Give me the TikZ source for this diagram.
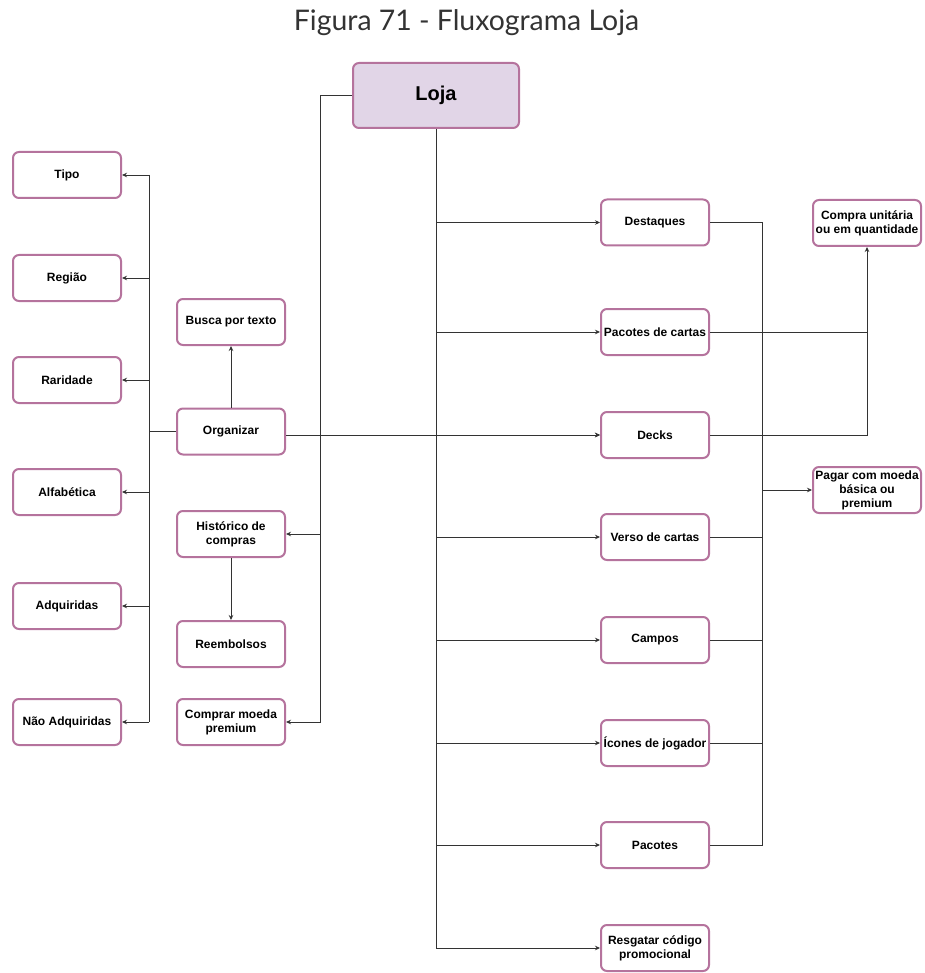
\documentclass[tikz,border=0pt]{standalone}
\usepackage{fontspec}
\setmainfont{Liberation Sans}
\newfontfamily\titlefont{Lato}
\usetikzlibrary{arrows.meta}
\definecolor{boxline}{HTML}{B5739D}
\definecolor{lojafill}{HTML}{E1D5E7}
\definecolor{wirecol}{HTML}{333333}
\begin{document}
\begin{tikzpicture}[x=1pt,y=-1pt,
  box/.style={draw=boxline, line width=2pt, rounded corners=6pt, fill=white,
    minimum width=108pt, minimum height=46pt, align=center, inner sep=1pt,
    font=\fontsize{12}{14}\selectfont\bfseries},
  wire/.style={draw=wirecol, line width=0.8pt},
  arr/.style={wire, -{Stealth[length=5pt,width=4.5pt]}}]
\useasboundingbox (0,0) rectangle (924,973);

% title
\node[font=\titlefont\fontsize{28.4}{32}\selectfont, text=wirecol] (title) at (466.5,23) {Figura 71 - Fluxograma Loja};

% root
\node[box, fill=lojafill, minimum width=166pt, minimum height=65pt,
  font=\fontsize{20}{24}\selectfont\bfseries] (loja) at (436,95.5) {Loja};

% sorting options (left column)
\node[box] (tipo)  at (67,175) {Tipo};
\node[box] (regiao) at (67,278) {Região};
\node[box] (rarid) at (67,380) {Raridade};
\node[box] (alfa)  at (67,492) {Alfabética};
\node[box] (adq)   at (67,606) {Adquiridas};
\node[box] (nadq)  at (67,722) {Não Adquiridas};

% middle column
\node[box] (busca) at (231,322) {Busca por texto};
\node[box] (org)   at (231,431.5) {Organizar};
\node[box] (hist)  at (231,534) {Histórico de\\compras};
\node[box] (reemb) at (231,644) {Reembolsos};
\node[box] (moeda) at (231,722) {Comprar moeda\\premium};

% shop sections (right column)
\node[box] (dest)  at (655,222.5) {Destaques};
\node[box] (pcart) at (655,332) {Pacotes de cartas};
\node[box] (decks) at (655,435) {Decks};
\node[box] (verso) at (655,537) {Verso de cartas};
\node[box] (campos) at (655,640) {Campos};
\node[box] (icones) at (655,743) {Ícones de jogador};
\node[box] (pacotes) at (655,845) {Pacotes};
\node[box] (resg)  at (655,948) {Resgatar código\\promocional};

% purchase options
\node[box] (compra) at (867,223) {Compra unitária\\ou em quantidade};
\node[box] (pagar)  at (867,490) {Pagar com moeda\\básica ou\\premium};

% left bus from Organizar
\coordinate (lbtop) at (149,175);
\coordinate (lbbot) at (149,722);
\draw[wire] (lbtop) -- (lbbot);
\draw[wire] (org.west) -- (lbtop |- org.west);
\foreach \n in {tipo,regiao,rarid,alfa,adq,nadq}
  \draw[arr] (lbtop |- \n.east) -- (\n.east);
\draw[arr] (org.north) -- (busca.south);
\draw[arr] (hist.south) -- (reemb.north);

% bus from the root's left side
\draw[wire] (loja.west) -- ++(-32,0) coordinate (mb);
\draw[arr] (mb) |- (moeda.east);
\draw[arr] (mb |- hist.east) -- (hist.east);

% main trunk
\draw[wire] (loja.south) -- (loja.south |- resg.west);
\foreach \n in {dest,pcart,decks,verso,campos,icones,pacotes,resg}
  \draw[arr] (loja.south |- \n.west) -- (\n.west);
\draw[arr] (org.east |- decks.west) -- (decks.west);

% payment bus
\coordinate (rb) at (762,845);
\draw[wire] (dest.east) -| (rb) -- (pacotes.east);
\foreach \n in {verso,campos,icones}
  \draw[wire] (\n.east) -- (\n.east -| rb);
\draw[arr] (rb |- pagar.west) -- (pagar.west);

% purchase-mode links
\draw[wire] (pcart.east) -- (pcart.east -| compra.south);
\draw[arr] (decks.east) -| (compra.south);
\end{tikzpicture}
\end{document}
